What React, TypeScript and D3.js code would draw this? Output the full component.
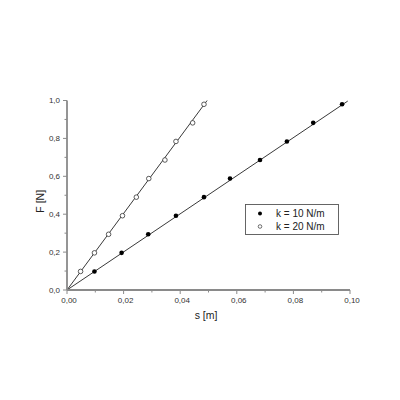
import React from "react";
import * as d3 from "d3";

const forceN = [0.098, 0.196, 0.294, 0.392, 0.49, 0.588, 0.686, 0.784, 0.882, 0.98];
const sK10 = [0.0097, 0.0193, 0.0287, 0.0385, 0.0484, 0.0576, 0.0682, 0.0777, 0.087, 0.0972];
const sK20 = [0.0048, 0.0097, 0.0147, 0.0196, 0.0245, 0.0289, 0.0346, 0.0385, 0.0444, 0.0484];
const fitSlopes = [10.05, 20.2];
const fitEndS = [0.0992, 0.0495];
const legendLabels = ["k = 10 N/m", "k = 20 N/m"];
const xTicks = [0, 0.02, 0.04, 0.06, 0.08, 0.1];
const xTickLabels = ["0,00", "0,02", "0,04", "0,06", "0,08", "0,10"];
const yTicks = [0, 0.2, 0.4, 0.6, 0.8, 1.0];
const yTickLabels = ["0,0", "0,2", "0,4", "0,6", "0,8", "1,0"];

export default function App() {
  const x = d3.scaleLinear().domain([0, 0.1]).range([67, 350]);
  const y = d3.scaleLinear().domain([0, 1]).range([290, 100.5]);
  const minorX = d3.range(0.01, 0.1, 0.02);
  const minorY = d3.range(0.1, 1.0, 0.2);
  const line = d3.line<[number, number]>().x((d) => x(d[0])).y((d) => y(d[1]));
  const font = "'Liberation Sans', 'DejaVu Sans', sans-serif";
  const axisColor = "#8a8a8a";
  const textColor = "#333";

  return (
    <svg width={400} height={400} style={{ position: "absolute", left: 0, top: 0, background: "#fff" }}>
      <rect width={400} height={400} fill="#fff" />
      {fitSlopes.map((k, i) => (
        <path
          key={"fit" + i}
          d={line([[0, 0], [fitEndS[i], k * fitEndS[i]]]) || ""}
          stroke="#222"
          strokeWidth={0.9}
          fill="none"
        />
      ))}
      <line x1={x(0)} x2={x(0)} y1={y(0)} y2={y(1)} stroke={axisColor} strokeWidth={1.8} />
      <line x1={x(0)} x2={x(0.1)} y1={y(0)} y2={y(0)} stroke={axisColor} strokeWidth={1.8} />
      {yTicks.map((t, i) => (
        <g key={"yt" + i}>
          <line x1={x(0) - 4} x2={x(0)} y1={y(t)} y2={y(t)} stroke={axisColor} strokeWidth={1} />
          <text x={x(0) - 7} y={y(t)} dy="0.35em" textAnchor="end" fontSize={8} fontFamily={font} fill={textColor}>
            {yTickLabels[i]}
          </text>
        </g>
      ))}
      {minorY.map((t, i) => (
        <line key={"ym" + i} x1={x(0) - 2.5} x2={x(0)} y1={y(t)} y2={y(t)} stroke={axisColor} strokeWidth={1} />
      ))}
      {xTicks.map((t, i) => (
        <g key={"xt" + i}>
          <line x1={x(t)} x2={x(t)} y1={y(0)} y2={y(0) + 4} stroke={axisColor} strokeWidth={1} />
          <text x={x(t) + 2} y={y(0) + 13} textAnchor="middle" fontSize={8} fontFamily={font} fill={textColor}>
            {xTickLabels[i]}
          </text>
        </g>
      ))}
      {minorX.map((t, i) => (
        <line key={"xm" + i} x1={x(t)} x2={x(t)} y1={y(0)} y2={y(0) + 2.5} stroke={axisColor} strokeWidth={1} />
      ))}
      <text x={206} y={319} textAnchor="middle" fontSize={10.5} fontFamily={font} fill="#222">
        s [m]
      </text>
      <text
        transform={`translate(44,${(y(0) + y(1)) / 2 + 6}) rotate(-90)`}
        textAnchor="middle"
        fontSize={10.5}
        fontFamily={font}
        fill="#222"
      >
        F [N]
      </text>
      {sK10.map((s, i) => (
        <circle key={"a" + i} cx={x(s)} cy={y(forceN[i])} r={2.3} fill="#000" />
      ))}
      {sK20.map((s, i) => (
        <circle key={"b" + i} cx={x(s)} cy={y(forceN[i])} r={2.3} fill="#fff" stroke="#333" strokeWidth={0.8} />
      ))}
      <rect x={245.5} y={204.5} width={93} height={30} fill="#fff" stroke="#555" strokeWidth={0.9} />
      <circle cx={260} cy={213.5} r={2} fill="#000" />
      <circle cx={260} cy={226.5} r={1.8} fill="#fff" stroke="#333" strokeWidth={0.7} />
      {legendLabels.map((l, i) => (
        <text key={"l" + i} x={276} y={213.5 + i * 13} dy="0.35em" fontSize={10} fontFamily={font} fill="#222">
          {l}
        </text>
      ))}
    </svg>
  );
}
